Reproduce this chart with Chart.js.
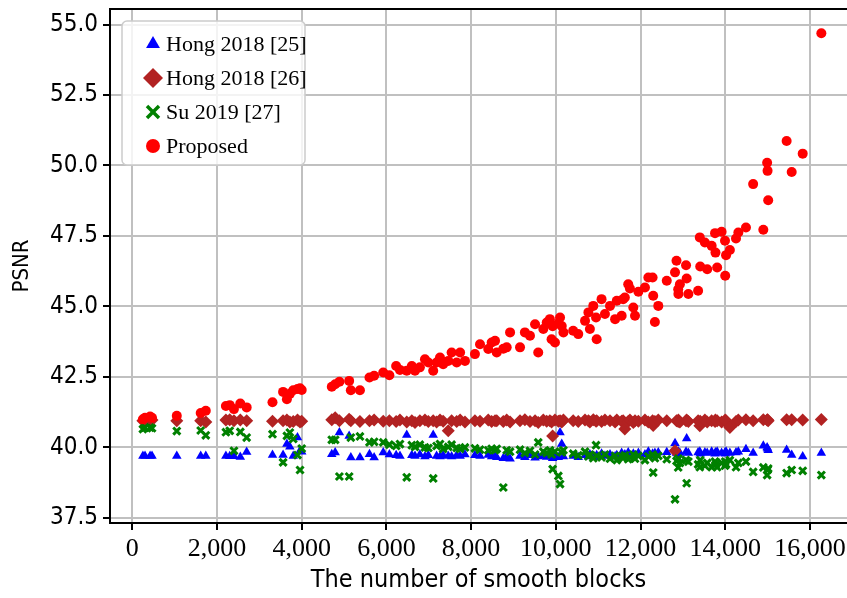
<!DOCTYPE html>
<html>
<head>
<meta charset="utf-8">
<script src="https://cdn.jsdelivr.net/npm/chart.js@4.4.1/dist/chart.umd.min.js"></script>
<style>
  html, body { margin: 0; background: #fff; }
  #wrap { width: 847px; height: 598px; }
</style>
</head>
<body>
<div id="wrap"><canvas id="psnrChart" width="847" height="598"></canvas></div>
<script>
// number of smooth blocks per test image (shared by all four methods)
const blocks = [
  250, 300, 420, 465, 1050, 1615, 1735, 2210, 2300, 2400, 2550, 2700, 3310, 3560, 3650, 3720, 3800, 3900, 3960, 4000,
  4710, 4790, 4890, 5120, 5160, 5375, 5600, 5710, 5925, 6070, 6230, 6320, 6480, 6600, 6675, 6790, 6910, 6990, 7105, 7185,
  7265, 7340, 7460, 7540, 7660, 7740, 7855, 8090, 8210, 8405, 8485, 8565,
  8605, 8760, 8840, 8920, 9155, 9270, 9390, 9510, 9585, 9705, 9785, 9860, 9900, 9925, 9980, 10060, 10100, 10140, 10180, 10410,
  10530, 10690, 10770, 10805, 10885, 10950, 10965, 11080, 11160, 11280, 11400, 11440, 11555, 11590, 11630, 11710, 11750, 11830, 11870, 11950,
  12105, 12185, 12285, 12300, 12340, 12420, 12620,
  12815, 12850, 12890, 12895, 12930, 13075, 13090, 13130, 13360, 13400, 13410, 13520, 13575, 13680, 13760, 13770, 13810, 13915, 13995, 14000,
  14020, 14110, 14255, 14310, 14490, 14660, 14900, 14990, 15000, 15015, 15450, 15570, 15830, 16270
];

const hong25 = [
  39.7, 39.7, 39.7, 39.7, 39.7, 39.7, 39.7, 39.7, 39.69, 39.69, 39.66, 39.84, 39.73, 39.73, 40.12, 40.02, 39.7, 40.35, 39.88, 39.85,
  39.76, 39.82, 40.53, 40.41, 39.64, 39.64, 39.76, 39.64, 39.82, 39.75, 39.72, 39.7, 40.44, 39.72, 39.7, 39.75, 39.68, 39.72, 40.44, 39.7,
  39.68, 39.72, 39.7, 39.68, 39.72, 39.7, 39.75, 39.72, 39.7, 39.73, 39.68, 39.7,
  39.65, 39.62, 39.68, 39.6, 39.7, 39.65, 39.72, 39.63, 39.68, 39.7, 39.66, 39.72, 39.68, 39.62, 39.7, 39.65, 40.53, 40.12, 39.68, 39.7,
  39.65, 39.72, 39.68, 39.75, 39.7, 39.65, 39.72, 39.78, 39.7, 39.75, 39.68, 39.72, 39.8, 39.7, 39.75, 39.82, 39.7, 39.78, 39.72, 39.8,
  39.75, 39.85, 39.78, 39.7, 39.8, 39.82, 39.83,
  40.15, 39.8, 39.75, 39.85, 39.8, 39.85, 40.32, 39.8, 39.82, 39.85, 39.78, 39.82, 39.8, 39.85, 39.78, 39.82, 39.85, 39.8, 39.82, 39.78,
  39.85, 39.8, 39.82, 39.85, 39.94, 39.8, 40.06, 40.0, 39.95, 39.9, 39.91, 39.73, 39.68, 39.8
];

const hong26 = [
  40.95, 40.98, 40.95, 40.97, 40.95, 40.95, 40.9, 40.97, 40.98, 40.95, 40.97, 40.95, 40.93, 40.95, 40.97, 40.9, 40.92, 40.97, 40.9, 40.93,
  40.98, 41.05, 40.95, 41.0, 40.95, 40.92, 40.95, 40.97, 40.93, 40.95, 40.92, 40.97, 40.9, 40.95, 40.88, 40.95, 40.97, 40.92, 40.95, 40.9,
  40.97, 40.93, 40.59, 40.95, 40.92, 40.97, 40.9, 40.95, 40.93, 40.97, 40.92, 40.95,
  40.95, 40.92, 40.97, 40.9, 40.95, 40.98, 40.92, 40.95, 40.88, 40.97, 40.93, 40.95, 40.9, 40.41, 40.97, 40.93, 40.95, 40.9, 40.97, 40.95,
  40.92, 40.97, 40.95, 40.9, 40.98, 40.93, 40.95, 40.92, 40.97, 40.95, 40.9, 40.97, 40.93, 40.95, 40.65, 40.92, 40.97, 40.88, 40.95, 40.93,
  40.97, 40.9, 40.95, 40.78, 40.92, 40.97, 40.95,
  39.88, 40.95, 40.92, 40.97, 40.9, 40.95, 40.97, 40.92, 40.95, 40.77, 40.93, 40.97, 40.9, 40.95, 40.92, 40.97, 40.95, 40.9, 40.93, 40.97,
  40.95, 40.71, 40.92, 40.97, 40.98, 40.95, 40.98, 40.97, 40.98, 40.95, 40.98, 40.98, 40.97, 40.99
];

const su2019 = [
  40.65, 40.7, 40.7, 40.68, 40.58, 40.6, 40.43, 40.54, 40.59, 39.88, 40.55, 40.35, 40.47, 39.47, 40.41, 40.53, 40.3, 39.73, 39.2, 39.96,
  40.27, 40.27, 38.97, 38.97, 40.35, 40.39, 40.18, 40.2, 40.18, 40.1, 40.05, 40.12, 38.94, 40.08, 40.02, 40.1, 40.0, 39.98, 38.9, 40.05,
  40.12, 39.95, 40.02, 40.1, 39.98, 39.95, 40.0, 39.97, 39.92, 39.9, 39.95, 39.9,
  39.95, 38.58, 39.9, 39.85, 39.92, 39.8, 39.88, 39.75, 40.18, 39.85, 39.8, 39.9, 39.75, 39.23, 39.85, 38.99, 38.7, 39.82, 39.9, 39.78,
  39.72, 39.85, 39.68, 39.75, 39.62, 40.08, 39.7, 39.65, 39.75, 39.6, 39.7, 39.55, 39.68, 39.62, 39.72, 39.58, 39.65, 39.75, 39.6, 39.7,
  39.55, 39.68, 39.75, 39.11, 39.62, 39.7, 39.58,
  38.16, 39.52, 39.29, 39.6, 39.45, 39.55, 38.73, 39.5, 39.4, 39.3, 39.55, 39.35, 39.45, 39.3, 39.5, 39.38, 39.3, 39.45, 39.35, 39.5,
  39.4, 39.55, 39.3, 39.45, 39.5, 39.13, 39.29, 39.02, 39.2, 39.25, 39.09, 39.2, 39.17, 39.02
];

const proposed = [
  41.0, 41.05, 41.1, 41.05, 41.12, 41.22, 41.3, 41.47, 41.5, 41.36, 41.56, 41.42, 41.6, 41.97, 41.71, 41.9, 42.03, 42.07, 42.1, 42.04,
  42.15, 42.24, 42.33, 42.36, 42.03, 42.03, 42.48, 42.54, 42.66, 42.56, 42.89, 42.75, 42.72, 42.89, 42.72, 42.84, 43.13, 43.01, 42.72, 43.01,
  43.19, 42.95, 43.07, 43.37, 43.01, 43.37, 43.07, 43.31, 43.66, 43.49, 43.72, 43.78,
  43.37, 43.5, 43.55, 44.08, 43.55, 44.08, 43.96, 44.37, 43.37, 44.2, 44.43, 44.55, 43.84, 44.3, 43.72, 44.4, 44.61, 44.31, 44.08, 44.14,
  44.02, 44.49, 44.79, 44.2, 45.02, 44.61, 43.84, 45.26, 44.73, 45.02, 44.55, 45.2, 44.67, 45.26, 45.32, 45.79, 45.64, 44.96, 44.67, 45.52,
  45.67, 46.03, 46.03, 45.38, 44.45, 45.02, 45.91,
  46.21, 46.62, 45.61, 45.44, 45.79, 46.46, 45.99, 45.44, 45.56, 47.45, 46.42, 47.27, 46.32, 47.15, 47.6, 46.91, 46.38, 47.65, 47.33, 46.09,
  46.82, 47.0, 47.41, 47.62, 47.8, 49.34, 47.72, 50.1, 49.81, 48.77, 50.87, 49.77, 50.42, 54.69
];

const seriesNames = ['Hong 2018 [25]', 'Hong 2018 [26]', 'Su 2019 [27]', 'Proposed'];
const xTicks = [0, 2000, 4000, 6000, 8000, 10000, 12000, 14000, 16000];
const yTicks = [37.5, 40.0, 42.5, 45.0, 47.5, 50.0, 52.5, 55.0];

const pts = ys => blocks.map((b, i) => ({ x: b, y: ys[i] }));

const markers = [
  { style: 'triangle', color: '#0000ff', r: 5.5, lr: 8, bw: 0 },
  { style: 'rectRot', color: '#b22222', r: 6.5, lr: 10, bw: 0 },
  { style: 'crossRot', color: '#008000', r: 5, lr: 8.5, bw: 3 },
  { style: 'circle', color: '#ff0000', r: 5, lr: 7, bw: 0 }
];

// frame top edge + legend box inside the plot, matplotlib style
const frameLegend = {
  id: 'frameLegend',
  afterDraw(chart) {
    const ctx = chart.ctx;
    const a = chart.chartArea;
    ctx.save();
    ctx.strokeStyle = '#000';
    ctx.lineWidth = 2;
    ctx.beginPath();
    ctx.moveTo(a.left, a.top);
    ctx.lineTo(a.right, a.top);
    ctx.stroke();

    const bx = a.left + 12, by = a.top + 12;
    ctx.beginPath();
    ctx.roundRect(bx, by, 183, 144, 5);
    ctx.fillStyle = 'rgba(255,255,255,0.8)';
    ctx.fill();
    ctx.strokeStyle = '#cccccc';
    ctx.lineWidth = 1.5;
    ctx.stroke();

    seriesNames.forEach((name, i) => {
      const m = markers[i];
      const y = by + 23 + i * 34;
      ctx.fillStyle = m.color;
      ctx.strokeStyle = m.color;
      ctx.lineWidth = m.bw ? 3.5 : 1;
      Chart.helpers.drawPoint(ctx, { pointStyle: m.style, radius: m.lr, rotation: 0, borderWidth: m.bw ? 3.5 : 0 }, bx + 31, y);
      ctx.fillStyle = '#000';
      ctx.font = '22px "Liberation Serif", "Times New Roman", serif';
      ctx.textBaseline = 'middle';
      ctx.textAlign = 'left';
      ctx.fillText(name, bx + 44, y + 1);
    });
    ctx.restore();
  }
};

const series = [hong25, hong26, su2019, proposed];
const datasets = series.map((ys, i) => ({
  label: seriesNames[i],
  data: pts(ys),
  pointStyle: markers[i].style,
  pointRadius: markers[i].r,
  backgroundColor: markers[i].color,
  borderColor: markers[i].color,
  borderWidth: markers[i].bw,
  order: 3 - i
}));

const ctx = document.getElementById('psnrChart').getContext('2d');
const psnrChart = new Chart(ctx, {
  type: 'scatter',
  data: { datasets: datasets },
  options: {
    responsive: false,
    devicePixelRatio: 1,
    animation: false,
    events: [],
    layout: { autoPadding: false, padding: { left: 0, right: 0, top: 9, bottom: 0 } },
    plugins: {
      legend: { display: false },
      tooltip: { enabled: false }
    },
    scales: {
      x: {
        type: 'linear',
        min: -527,
        max: 16876,
        afterBuildTicks: s => { s.ticks = xTicks.map(v => ({ value: v })); },
        afterFit: s => { s.height = 75; s.paddingLeft = 0; s.paddingRight = 0; },
        ticks: {
          autoSkip: false,
          maxRotation: 0,
          padding: 4,
          color: '#000',
          font: { family: '"Liberation Serif", "Times New Roman", serif', size: 26 },
          callback: v => v.toLocaleString('en-US')
        },
        grid: { color: '#c0c0c0', lineWidth: 2, tickLength: 7, tickColor: '#000', tickWidth: 2 },
        border: { color: '#000', width: 2 },
        title: {
          display: true,
          text: 'The number of smooth blocks',
          color: '#000',
          font: { family: '"DejaVu Sans Condensed", "DejaVu Sans", sans-serif', size: 25, lineHeight: 1 },
          padding: { top: 5, bottom: 5 }
        }
      },
      y: {
        type: 'linear',
        min: 37.32,
        max: 55.55,
        afterBuildTicks: s => { s.ticks = yTicks.map(v => ({ value: v })); },
        afterFit: s => { s.width = 110; s.paddingTop = 0; s.paddingBottom = 0; },
        ticks: {
          padding: 5,
          color: '#000',
          font: { family: '"DejaVu Sans Condensed", "DejaVu Sans", sans-serif', size: 24 },
          callback: v => v.toFixed(1)
        },
        grid: { color: '#c0c0c0', lineWidth: 2, tickLength: 7, tickColor: '#000', tickWidth: 2 },
        border: { color: '#000', width: 2 },
        title: {
          display: true,
          text: 'PSNR',
          color: '#000',
          font: { family: '"DejaVu Sans Condensed", "DejaVu Sans", sans-serif', size: 22, lineHeight: 1 },
          padding: { top: 11, bottom: 11 }
        }
      }
    }
  },
  plugins: [frameLegend]
});
</script>
</body>
</html>
